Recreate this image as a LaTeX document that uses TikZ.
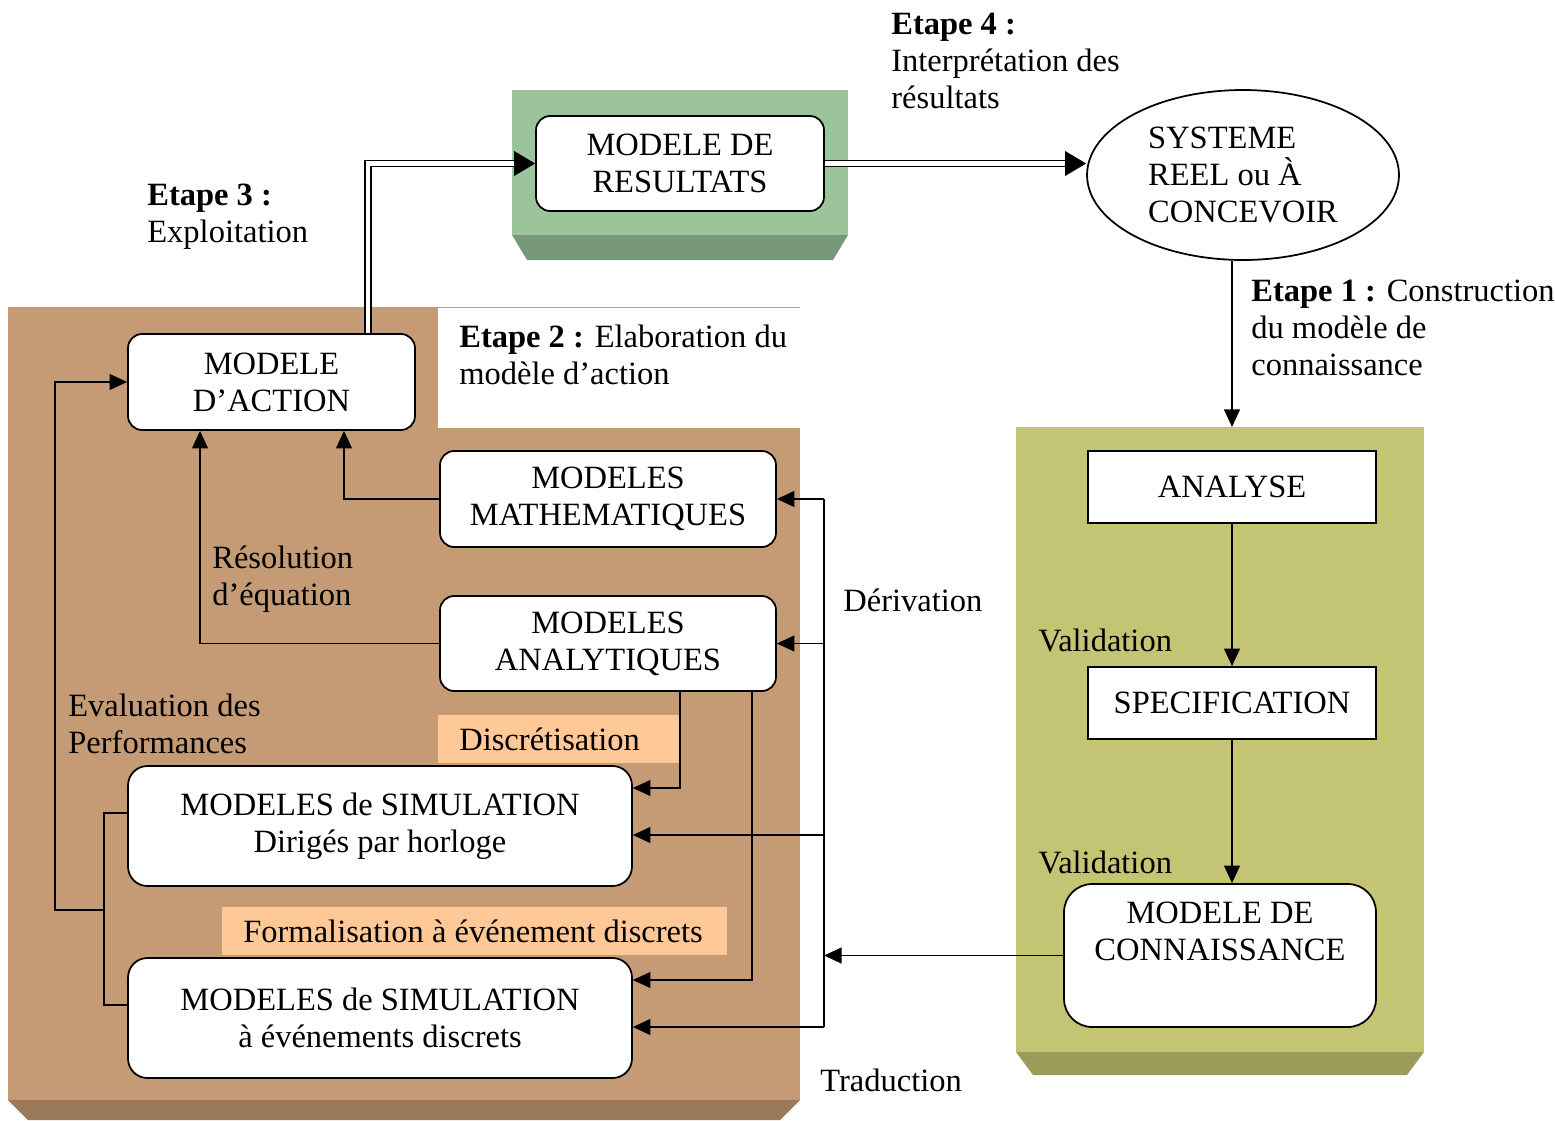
\documentclass[tikz,border=0pt]{standalone}
\usepackage{fontspec}
\setmainfont{Liberation Serif}
\usetikzlibrary{arrows.meta,shapes.geometric}
\definecolor{brownpanel}{RGB}{196,155,117}
\definecolor{brownshade}{RGB}{155,122,92}
\definecolor{greenpanel}{RGB}{155,196,155}
\definecolor{greenshade}{RGB}{120,152,122}
\definecolor{olivepanel}{RGB}{196,196,117}
\definecolor{oliveshade}{RGB}{155,155,90}
\definecolor{tagfill}{RGB}{255,200,150}
\tikzset{
  box/.style={draw, line width=1pt, rounded corners=8pt, fill=white, align=center, inner sep=0pt},
  sqbox/.style={draw, line width=1pt, fill=white, align=center, inner sep=0pt},
  wire/.style={line width=1pt},
  link/.style={line width=1pt, -{Triangle[length=10pt,width=9pt]}},
  dbl/.style={double, line width=1pt, double distance=2.5pt, -{Triangle[length=12pt,width=14pt]}},
  lbl/.style={anchor=base west, align=left, inner sep=0pt},
  tag/.style={fill=tagfill, anchor=north west, inner xsep=0.42cm, inner ysep=0pt, minimum height=0.96cm},
}
\begin{document}
\begin{tikzpicture}[x=0.02cm, y=-0.02cm, font=\fontsize{18.5}{21}\selectfont]
        \useasboundingbox (0,0) rectangle (1555,1120);
        % Panels
        \fill[brownpanel] (8,307) rectangle (800,1100);
        \fill[brownshade] (8,1100) -- (800,1100) -- (780,1120) -- (28,1120) -- cycle;
        \fill[white] (438,307) rectangle (800,428);
        \draw[brownpanel, line width=0.5pt] (438,307) -- (800,307);
        \fill[greenpanel] (512,90) rectangle (848,235);
        \fill[greenshade] (512,235) -- (848,235) -- (833,260) -- (527,260) -- cycle;
        \fill[olivepanel] (1016,427) rectangle (1424,1052);
        \fill[oliveshade] (1016,1052) -- (1424,1052) -- (1407,1075) -- (1033,1075) -- cycle;
        \coordinate (olivetop) at (1232,427);

        % Labels (base = last line)
        \node[lbl] at (891,108) {\textbf{Etape 4 :}\\Interprétation des\\résultats};
        \node[lbl] at (147,242) {\textbf{Etape 3 :}\\Exploitation};
        \node[lbl] at (459,384) {\textbf{Etape 2 :} Elaboration du\\modèle d’action};
        \node[lbl] at (1251,375) {\textbf{Etape 1 :} Construction\\du modèle de\\connaissance};
        \node[lbl] at (212,605) {Résolution\\d’équation};
        \node[lbl] at (68,753) {Evaluation des\\Performances};
        \node[lbl] at (843,611) {Dérivation};
        \node[lbl] at (820,1091) {Traduction};
        \node[lbl] at (1038,651) {Validation};
        \node[lbl] at (1038,873) {Validation};
        \node[tag] (discr) at (438,715) {\makebox[4.0cm][l]{Discrétisation}};
        \node[tag] (formal) at (222,907) {\makebox[9.26cm][l]{Formalisation à événement discrets}};

        % Models
        \node[box, minimum width=5.76cm, minimum height=1.9cm] (res) at (680,163.5) {MODELE DE\\RESULTATS};
        \node[draw, line width=1pt, ellipse, fill=white, inner sep=0pt, align=left,
              minimum width=6.24cm, minimum height=3.4cm] (sys) at (1243,175) {SYSTEME\\REEL ou À\\CONCEVOIR};
        \node[box, minimum width=5.74cm, minimum height=1.92cm] (act) at (271.5,382) {MODELE\\D’ACTION};
        \node[box, minimum width=6.72cm, minimum height=1.92cm] (math) at (608,499) {MODELES\\MATHEMATIQUES};
        \node[box, minimum width=6.72cm, minimum height=1.9cm] (ana) at (608,643.5) {MODELES\\ANALYTIQUES};
        \node[box, rounded corners=11pt, minimum width=10.08cm, minimum height=2.4cm] (sim1) at (380,826) {MODELES de SIMULATION\\Dirigés par horloge};
        \node[box, rounded corners=11pt, minimum width=10.08cm, minimum height=2.4cm] (sim2) at (380,1018) {MODELES de SIMULATION\\à événements discrets};
        \node[sqbox, minimum width=5.76cm, minimum height=1.44cm] (analyse) at (1232,487) {ANALYSE};
        \node[sqbox, minimum width=5.76cm, minimum height=1.44cm] (spec) at (1232,703) {SPECIFICATION};
        \node[box, rounded corners=16pt, minimum width=6.24cm, minimum height=2.86cm] (conn) at (1220,955.5) {MODELE DE\\CONNAISSANCE\\ \strut};

        % Connectors
        \draw[dbl] ([xshift=1.93cm]act.north) |- (res.west);
        \draw[dbl] (res.east) -- (res.east -| sys.west);
        \draw[link] (sys.south -| olivetop) -- (olivetop);
        \draw[link] (analyse) -- (spec);
        \draw[link] (spec) -- (conn.north -| spec);

        \coordinate (busTop) at (824,499);
        \coordinate (busBot) at (824,1027);
        \draw[wire] (busTop) -- (busBot);
        \draw[link] (conn.west) -- (conn.west -| busTop);
        \draw[link] (busTop) -- (math.east);
        \draw[link] (busTop |- ana.east) -- (ana.east);
        \draw[link] (busTop |- sim1.east) ++(0,9) -- ([yshift=-0.18cm]sim1.east);
        \draw[link] (busBot) -- ([yshift=-0.18cm]sim2.east);

        \draw[link] (math.west) -| ([xshift=1.45cm]act.south);
        \draw[link] (ana.west) -| ([xshift=-1.43cm]act.south);
        \draw[link] ([xshift=1.44cm]ana.south) |- ([yshift=0.76cm]sim1.east);
        \draw[link] ([xshift=2.88cm]ana.south) |- ([yshift=0.76cm]sim2.east);

        \coordinate (eval) at (104,910);
        \draw[wire] ([yshift=0.26cm]sim1.west) -| (eval) |- ([yshift=0.26cm]sim2.west);
        \draw[link] (eval) -| ([xshift=-1.44cm]act.west) -- (act.west);
    \end{tikzpicture}
\end{document}
